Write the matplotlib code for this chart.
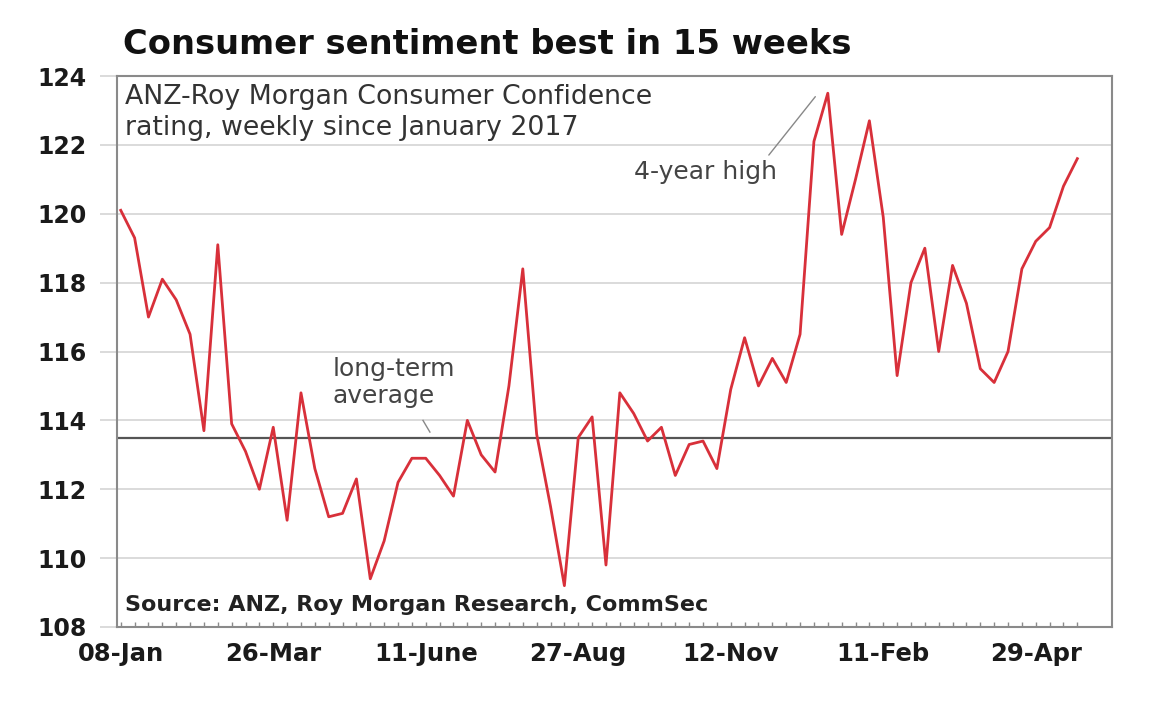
## Module imports
import numpy as np
import matplotlib
matplotlib.use('Agg')
import matplotlib.pyplot as plt

## Data
#ANZ-Roy Morgan weekly consumer confidence, from 08-Jan 2017
confidence = [120.1, 119.3, 117.0, 118.1, 117.5, 116.5, 113.7, 119.1, 113.9, 113.1,
              112.0, 113.8, 111.1, 114.8, 112.6, 111.2, 111.3, 112.3, 109.4, 110.5,
              112.2, 112.9, 112.9, 112.4, 111.8, 114.0, 113.0, 112.5, 115.0, 118.4,
              113.6, 111.5, 109.2, 113.5, 114.1, 109.8, 114.8, 114.2, 113.4, 113.8,
              112.4, 113.3, 113.4, 112.6, 114.9, 116.4, 115.0, 115.8, 115.1, 116.5,
              122.1, 123.5, 119.4, 121.0, 122.7, 119.9, 115.3, 118.0, 119.0, 116.0,
              118.5, 117.4, 115.5, 115.1, 116.0, 118.4, 119.2, 119.6, 120.8, 121.6]
long_term_avg = 113.5
tick_labels = ['08-Jan', '26-Mar', '11-June', '27-Aug', '12-Nov', '11-Feb', '29-Apr']
tick_every = 11
y_ticks = [108, 110, 112, 114, 116, 118, 120, 122, 124]

weeks = np.arange(len(confidence))

## Figure
fig = plt.figure(figsize=(11.6, 7.04), dpi=100)
ax = fig.add_axes([117/1160, 1 - 627/704, 995/1160, 551/704])

#Grid and average line
for v in y_ticks[1:-1]:
    ax.axhline(v, color='#d4d4d4', lw=1.2, zorder=1)
ax.axhline(long_term_avg, color='#555555', lw=1.6, zorder=2)

#Series
ax.plot(weeks, confidence, color='#d8303a', lw=2.0, zorder=3)

#Axes
ax.set_xlim(-0.27, 71.5)
ax.set_ylim(108, 124)
ax.set_yticks(y_ticks)
ax.set_yticklabels([str(v) for v in y_ticks])
ax.set_xticks(weeks[::tick_every])
ax.set_xticklabels(tick_labels)
ax.set_xticks(weeks, minor=True)

for s in ax.spines.values():
    s.set_color('#8a8a8a')
    s.set_linewidth(1.5)

ax.tick_params(axis='y', direction='out', length=12, width=1.2, color='#d4d4d4',
               pad=10, labelsize=17, labelcolor='#1a1a1a')
ax.tick_params(axis='x', which='both', direction='in', length=3.5, width=1,
               color='#8a8a8a', pad=11, labelsize=17.5, labelcolor='#1a1a1a')
for lbl in ax.get_xticklabels() + ax.get_yticklabels():
    lbl.set_fontweight('bold')

## Text
fig.text(123/1160, 1 - 45/704, 'Consumer sentiment best in 15 weeks',
         fontsize=24.3, fontweight='bold', color='#111111', va='center', ha='left')

ax.text(0.008, 0.985, 'ANZ-Roy Morgan Consumer Confidence\nrating, weekly since January 2017',
        transform=ax.transAxes, fontsize=19.3, color='#333333', va='top', ha='left',
        linespacing=1.25)

ax.text(0.217, 0.49, 'long-term\naverage', transform=ax.transAxes, fontsize=18,
        color='#444444', va='top', ha='left', linespacing=1.15)
ax.plot([21.8, 22.3], [114.0, 113.66], color='#888888', lw=1)

ax.annotate('4-year high', xy=(50.1, 123.4), xytext=(0.52, 0.826),
            textcoords='axes fraction', fontsize=18, color='#444444',
            va='center', ha='left',
            arrowprops=dict(arrowstyle='-', color='#888888', lw=1,
                            shrinkA=0, shrinkB=0,
                            relpos=(0.94, 1.2)))

ax.text(0.008, 0.04, 'Source: ANZ, Roy Morgan Research, CommSec', transform=ax.transAxes,
        fontsize=16, fontweight='bold', color='#222222', va='center', ha='left')

plt.savefig('out.png', dpi=100)
